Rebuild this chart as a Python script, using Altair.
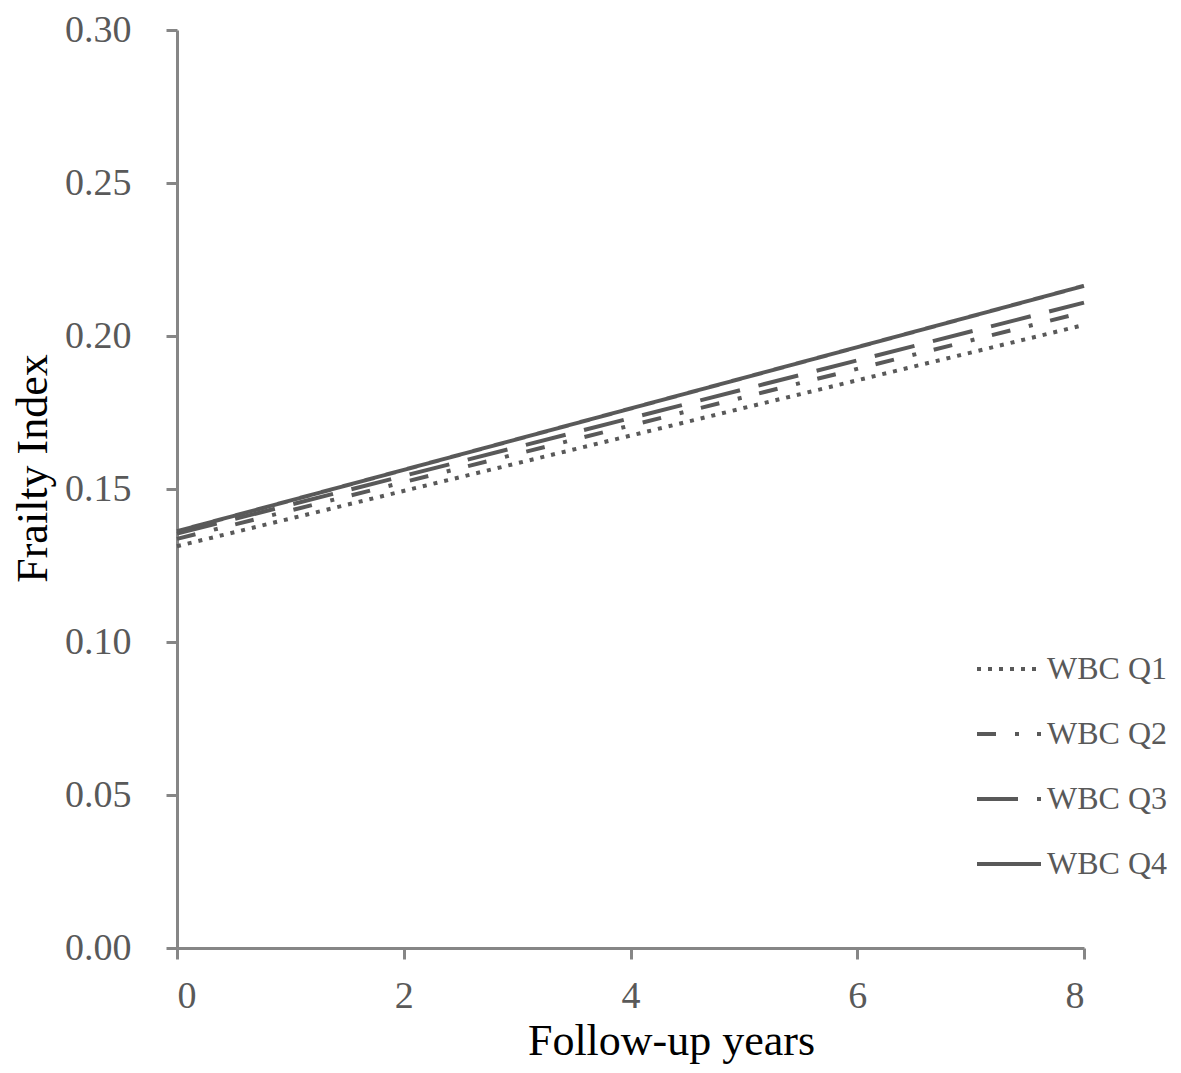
import altair as alt
import pandas as pd

years = [0, 8]
groups = ["WBC Q1", "WBC Q2", "WBC Q3", "WBC Q4"]
q1 = [0.1313, 0.2036]
q2 = [0.1337, 0.2078]
q3 = [0.1354, 0.2109]
q4 = [0.1362, 0.2164]
y_ticks = [0.0, 0.05, 0.10, 0.15, 0.20, 0.25, 0.30]
x_ticks = [0, 2, 4, 6, 8]

rows = []
for g, vals in zip(groups, [q1, q2, q3, q4]):
    for yr, v in zip(years, vals):
        rows.append({"year": yr, "fi": v, "group": g})
df = pd.DataFrame(rows)

dashes = [[4, 7], [19, 19, 4, 18], [41, 19], [1, 0]]
FONT = "Liberation Serif"
AX = "#868686"
LINE = "#595959"

chart = alt.Chart(df).mark_line(strokeWidth=4, color=LINE).encode(
    x=alt.X("year:Q", scale=alt.Scale(domain=[0, 8], nice=False),
            axis=alt.Axis(values=x_ticks, title="Follow-up years", format="d",
                          titleX=494, titleY=106, titleBaseline="alphabetic",
                          labelPadding=18)),
    y=alt.Y("fi:Q", scale=alt.Scale(domain=[0, 0.30], nice=False),
            axis=alt.Axis(values=y_ticks, title="Frailty Index", format=".2f",
                          titleX=-131, titleY=438, titleBaseline="alphabetic",
                          labelPadding=35)),
    strokeDash=alt.StrokeDash("group:N",
                              scale=alt.Scale(domain=groups, range=dashes),
                              legend=alt.Legend(title=None, orient="none",
                                                legendX=798, legendY=605,
                                                symbolType="stroke", symbolSize=4096,
                                                symbolStrokeWidth=4,
                                                symbolStrokeColor=LINE,
                                                labelFontSize=32, labelFont=FONT,
                                                labelColor=LINE, labelOffset=4,
                                                rowPadding=15)),
    detail="group:N",
).properties(
    width=907, height=918,
    autosize=alt.AutoSizeParams(type="none"),
    padding={"left": 169, "top": 22, "right": 86, "bottom": 116},
).configure_view(stroke=None).configure_axis(
    grid=False, domainColor=AX, domainWidth=3, tickColor=AX, tickWidth=3,
    tickSize=11, labelFont=FONT, labelFontSize=38, labelColor=LINE,
    titleFont=FONT, titleFontSize=44, titleColor="#000000", titleFontWeight="normal",
)

chart.save("out.html", embed_options={"renderer": "svg", "actions": False})
